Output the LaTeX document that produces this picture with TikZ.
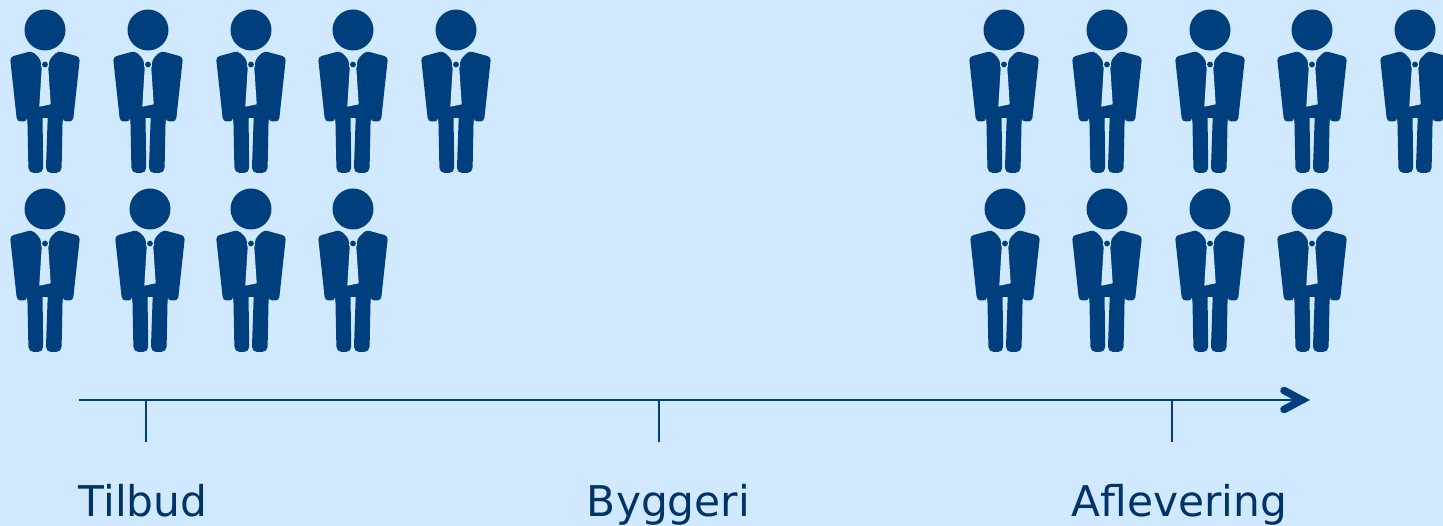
\documentclass[tikz,border=0pt]{standalone}
\usepackage{fontspec}
\setmainfont{DejaVu Sans}
\usetikzlibrary{arrows.meta}
\definecolor{bgblue}{HTML}{D1E9FF}
\definecolor{suitblue}{HTML}{003F7D}
\definecolor{textblue}{HTML}{003366}
\tikzset{
  person/.pic = {% origin at centre of head
    \fill[suitblue] (0,0) circle (20.5);
    % legs
    \fill[suitblue, rounded corners=3]
      (-18,70) -- (-16.5,143) -- (-1.7,143) -- (-2.7,70) -- cycle;
    \fill[suitblue, rounded corners=3]
      (18,70) -- (16.5,143) -- (0.8,143) -- (3.3,70) -- cycle;
    % jacket
    \fill[suitblue, rounded corners=2]
      (-35,27) -- (-13,21) -- (-4,30) -- (-4,38) -- (4,38) -- (4,30) -- (13,21) -- (35,27)
      -- (28,91.5) -- (18,91.5) -- (18,88) -- (-18,88) -- (-18,91.5) -- (-28,91.5) -- cycle;
    \fill[bgblue] (-3.3,38) -- (3.3,38) -- (5.7,74.3) -- (-5.7,76.7) -- cycle;
    \fill[bgblue] (0,35.5) circle (4.2);
    \fill[suitblue] (0,34.5) circle (2.9);
  },
  lbl/.style = {% axis labels
    text=textblue, font=\fontsize{24.1}{28}\selectfont, inner sep=0pt, anchor=base,
  },
}
\begin{document}
\begin{tikzpicture}[x=0.02cm, y=-0.02cm]
  \useasboundingbox (0,0) rectangle (1443,526);
  \fill[bgblue] (0,0) rectangle (1443,526);

  % top row
  \foreach \x in {45,148,251,353,456,1004,1107,1210,1312,1415}
    \pic at (\x,30) {person};
  % bottom row
  \foreach \x in {45,150,251,353,1005,1107,1210,1312}
    \pic at (\x,209) {person};

  % time axis
  \coordinate (start) at (79,400);
  \coordinate (end) at (1310,400);
  \coordinate (tilbudtick) at (146,400);
  \coordinate (byggeritick) at (659,400);
  \coordinate (afleveringtick) at (1172,400);
  \coordinate (tilbudend) at (146,442);
  \coordinate (byggeriend) at (659,442);
  \coordinate (afleveringend) at (1172,442);

  \draw[suitblue, line width=0.05cm, -{Straight Barb[length=0.36cm,width=0.38cm,line width=0.15cm,line cap=round,line join=miter]}] (start) -- (end);
  \draw[suitblue, line width=0.04cm] (tilbudtick) -- (tilbudend);
  \draw[suitblue, line width=0.04cm] (byggeritick) -- (byggeriend);
  \draw[suitblue, line width=0.04cm] (afleveringtick) -- (afleveringend);

  \node[lbl] (tilbud) at (143,517) {Tilbud};
  \node[lbl] (byggeri) at (668.5,517) {Byggeri};
  \node[lbl] (aflevering) at (1179.5,517) {Aflevering};
\end{tikzpicture}
\end{document}
